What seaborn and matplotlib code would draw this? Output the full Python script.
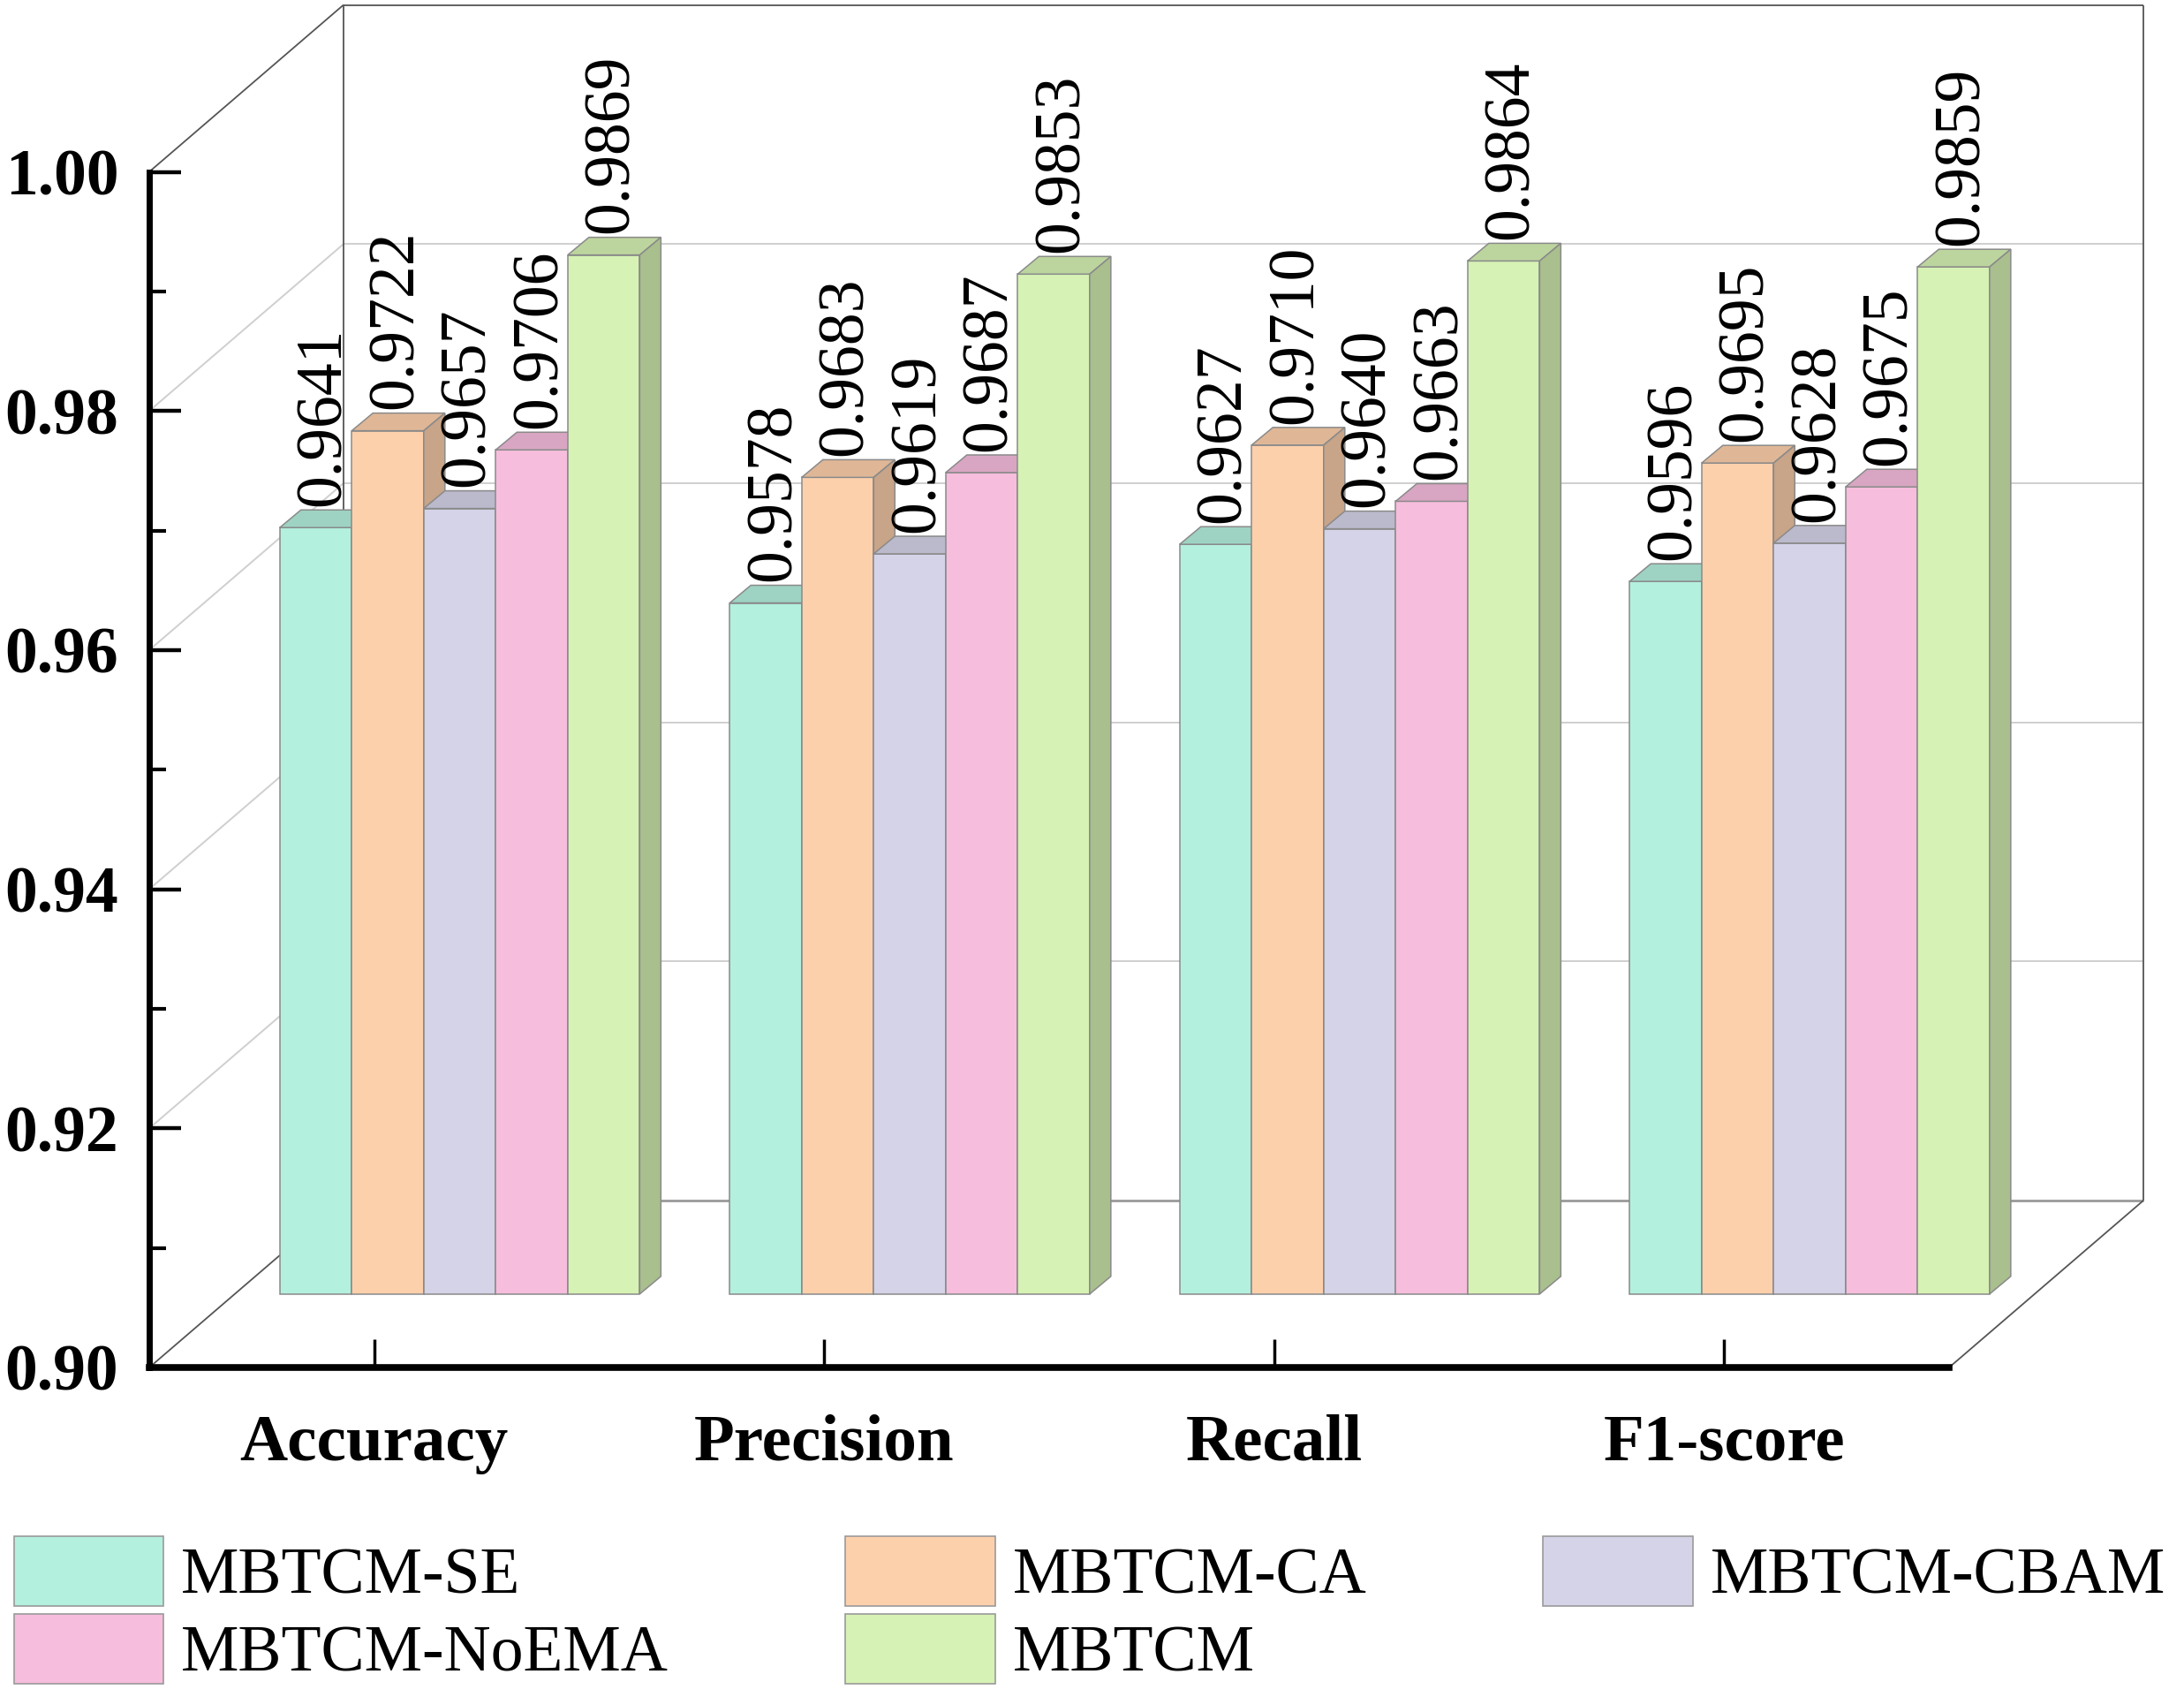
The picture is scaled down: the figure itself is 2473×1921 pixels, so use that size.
import numpy as np
import pandas as pd
import matplotlib
matplotlib.use("Agg")
import matplotlib.pyplot as plt
import seaborn as sns
from matplotlib.patches import Polygon, Patch
from matplotlib.lines import Line2D
from matplotlib.transforms import IdentityTransform
from matplotlib.ticker import MultipleLocator, FormatStrFormatter
from matplotlib.colors import to_rgb

# ---------------- data ----------------
categories = ["Accuracy", "Precision", "Recall", "F1-score"]
models = ["MBTCM-SE", "MBTCM-CA", "MBTCM-CBAM", "MBTCM-NoEMA", "MBTCM"]
se_vals = [0.9641, 0.9578, 0.9627, 0.9596]
ca_vals = [0.9722, 0.9683, 0.9710, 0.9695]
cbam_vals = [0.9657, 0.9619, 0.9640, 0.9628]
noema_vals = [0.9706, 0.9687, 0.9663, 0.9675]
mbtcm_vals = [0.9869, 0.9853, 0.9864, 0.9859]
y_ticks = [0.90, 0.92, 0.94, 0.96, 0.98, 1.00]
colors = ["#B3F0DE", "#FDD0AC", "#D5D3E8", "#F6BDDC", "#D6F2B4"]

series = [se_vals, ca_vals, cbam_vals, noema_vals, mbtcm_vals]
df = pd.DataFrame({
    "metric": [c for s in series for c in categories],
    "model": [m for m, s in zip(models, series) for _ in s],
    "value": [v for s in series for v in s],
})

# ---------------- style ----------------
sns.set_theme(style="white")
plt.rcParams["font.family"] = ["Liberation Serif", "DejaVu Serif"]
plt.rcParams["text.color"] = "black"

W, H, DPI = 2473, 1921, 100
fig = plt.figure(figsize=(W / DPI, H / DPI), dpi=DPI)
fig.patch.set_facecolor("white")

# front plane (pixels)
L, R = 169, 2207
B, T = H - 1548, H - 194.5
DX, DY = 220, 189          # full depth of the pseudo-3D box
F = 0.44                   # depth position of bars
BDX, BDY = 24, 20          # depth of each bar
YMIN, YMAX = 0.90, 1.00

ax = fig.add_axes([L / W, B / H, (R - L) / W, (T - B) / H], zorder=0)
ax.set_facecolor("none")
axb = fig.add_axes([(L + F * DX) / W, (B + F * DY) / H, (R - L) / W, (T - B) / H], zorder=1)
axb.set_facecolor("none")

sns.barplot(data=df, x="metric", y="value", hue="model", order=categories,
            hue_order=models, palette=colors, saturation=1, width=0.8,
            edgecolor="#8a8a8a", linewidth=1.1, legend=False, ax=axb)

for a in (ax, axb):
    a.set_xlim(-0.5, len(categories) - 0.5)
    a.set_ylim(YMIN, YMAX)
axb.set_axis_off()

# ---------------- box frame ----------------
def P(x, y, d):
    px, py = ax.transData.transform((x, y))
    return px + d * DX, py + d * DY

def fline(p0, p1, color, lw):
    ln = Line2D([p0[0], p1[0]], [p0[1], p1[1]], transform=IdentityTransform(),
                color=color, lw=lw, zorder=-1, solid_capstyle="butt")
    fig.add_artist(ln)

x0, x1 = -0.5, len(categories) - 0.5
for yv in y_ticks[1:-1]:
    fline(P(x0, yv, 1), P(x1, yv, 1), "#cfcfcf", 1.4)
    fline(P(x0, yv, 0), P(x0, yv, 1), "#cfcfcf", 1.4)
fline(P(x0, YMIN, 1), P(x1, YMIN, 1), "#9a9a9a", 2.0)
fline(P(x0, YMAX, 1), P(x1, YMAX, 1), "#555555", 1.3)
fline(P(x0, YMIN, 1), P(x0, YMAX, 1), "#555555", 1.3)
fline(P(x1, YMIN, 1), P(x1, YMAX, 1), "#555555", 1.3)
fline(P(x0, YMAX, 0), P(x0, YMAX, 1), "#555555", 1.3)
fline(P(x0, YMIN, 0), P(x0, YMIN, 1), "#555555", 1.3)
fline(P(x1, YMIN, 0), P(x1, YMIN, 1), "#555555", 1.3)

# ---------------- 3D bars ----------------
bars = sorted([p for p in axb.patches], key=lambda p: p.get_x())
for i, p in enumerate(bars):
    v = p.get_height()
    p.set_y(YMIN)
    p.set_height(v - YMIN)
    p.set_clip_on(False)
    z = 2 + i * 0.01
    p.set_zorder(z)
    fc = np.array(to_rgb(p.get_facecolor()))
    xa, xb = p.get_x(), p.get_x() + p.get_width()
    (ax_, by_), (bx_, ty_) = axb.transData.transform([(xa, YMIN), (xb, v)])
    top = Polygon([(ax_, ty_), (bx_, ty_), (bx_ + BDX, ty_ + BDY), (ax_ + BDX, ty_ + BDY)],
                  closed=True, transform=IdentityTransform(), facecolor=fc * 0.88,
                  edgecolor="#8a8a8a", lw=1.1, zorder=z, clip_on=False)
    side = Polygon([(bx_, by_), (bx_, ty_), (bx_ + BDX, ty_ + BDY), (bx_ + BDX, by_ + BDY)],
                   closed=True, transform=IdentityTransform(), facecolor=fc * 0.79,
                   edgecolor="#8a8a8a", lw=1.1, zorder=z, clip_on=False)
    axb.add_patch(top)
    axb.add_patch(side)
    axb.annotate(f"{v:.4f}", xy=((xa + xb) / 2, v), xycoords="data",
                 xytext=(7, BDY * 0.72 + 3), textcoords="offset points",
                 rotation=90, ha="center", va="bottom", fontsize=53,
                 color="black", zorder=20, annotation_clip=False)

# ---------------- axes ----------------
for s in ("top", "right"):
    ax.spines[s].set_visible(False)
ax.spines["left"].set_linewidth(5)
ax.spines["bottom"].set_linewidth(5.5)
for s in ("left", "bottom"):
    ax.spines[s].set_color("black")

ax.set_yticks(y_ticks)
ax.yaxis.set_major_formatter(FormatStrFormatter("%.2f"))
ax.yaxis.set_minor_locator(MultipleLocator(0.01))
ax.set_xticks(range(len(categories)))
ax.set_xticklabels(categories)
ax.tick_params(axis="y", which="major", direction="in", length=26, width=3.2,
               pad=25, labelsize=53, left=True, color="black", labelcolor="black")
ax.tick_params(axis="y", which="minor", direction="in", length=14, width=3,
               left=True, color="black")
ax.tick_params(axis="x", which="major", direction="in", length=23, width=2.5,
               pad=38, labelsize=54, bottom=True, color="black", labelcolor="black")
for t in ax.get_xticklabels() + ax.get_yticklabels():
    t.set_fontweight("bold")
ax.set_xlabel("")
ax.set_ylabel("")

# ---------------- legend ----------------
handles = [Patch(facecolor=c, edgecolor="#9a9a9a", linewidth=1.2, label=m)
           for c, m in zip(colors, models)]
order = [0, 3, 1, 4, 2]
fig.legend([handles[k] for k in order], [models[k] for k in order],
           ncol=3, loc="upper left", bbox_to_anchor=(16 / W, (H - 1739) / H),
           frameon=False, fontsize=53, handlelength=2.3, handleheight=1.28,
           handletextpad=0.27, columnspacing=2.72, labelspacing=0.1,
           borderpad=0, borderaxespad=0, labelcolor="black")

fig.savefig("out.png", dpi=DPI, facecolor="white")
